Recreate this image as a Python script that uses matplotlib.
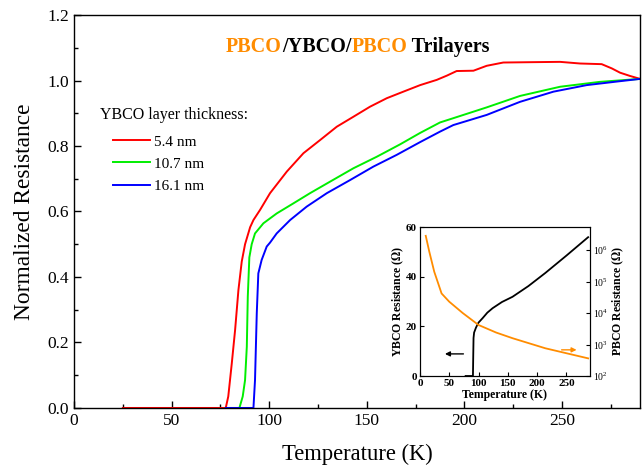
import matplotlib
matplotlib.use("Agg")
import matplotlib.pyplot as plt
import numpy as np
from matplotlib.ticker import MultipleLocator, LogLocator, NullLocator, FormatStrFormatter

plt.rcParams['font.family'] = ['Liberation Serif', 'DejaVu Serif']
plt.rcParams['mathtext.fontset'] = 'stix'

# ---- main data ----
T_red = [25, 77.7, 79, 80.8, 82.5, 84.2, 85.9, 87.6, 90.2, 91.9, 95.3, 100.4, 109, 117.5, 126,
         134.6, 143, 151.6, 160.2, 168.7, 177.3, 185.8, 191, 196, 204.6, 211.4, 219.9, 233.6,
         249, 259.2, 270.3, 275.5, 279.7, 284.8, 290]
R_red = [0, 0, 0.035, 0.136, 0.238, 0.36, 0.447, 0.5, 0.552, 0.574, 0.605, 0.656, 0.722, 0.778,
         0.818, 0.859, 0.889, 0.92, 0.946, 0.966, 0.986, 1.002, 1.015, 1.029, 1.03, 1.045, 1.055,
         1.056, 1.057, 1.052, 1.05, 1.037, 1.024, 1.014, 1.005]

T_green = [77.7, 84.7, 86.4, 87.6, 88.5, 89, 89.8, 91, 92.7, 97, 103.8, 112.4, 120.9, 131.1,
           143.1, 155, 167, 177.3, 187.5, 194.3, 211.4, 228.5, 249, 269.5, 290]
R_green = [0, 0, 0.035, 0.085, 0.187, 0.34, 0.46, 0.5, 0.533, 0.564, 0.594, 0.625, 0.656, 0.691,
           0.732, 0.767, 0.805, 0.84, 0.872, 0.885, 0.918, 0.953, 0.981, 0.996, 1.005]

T_blue = [77.7, 91.9, 92.7, 93.6, 94.4, 96.1, 98.7, 100.4, 103.8, 110.7, 119.2, 129.5, 141.4,
          153.3, 165.3, 177.3, 187.5, 194.3, 211.4, 228.5, 245.6, 262.6, 279.7, 290]
R_blue = [0, 0, 0.085, 0.289, 0.411, 0.452, 0.493, 0.505, 0.533, 0.574, 0.615, 0.656, 0.696,
          0.737, 0.773, 0.812, 0.844, 0.864, 0.895, 0.935, 0.966, 0.986, 0.998, 1.005]

legend_title = 'YBCO layer thickness:'
labels = ['5.4 nm', '10.7 nm', '16.1 nm']
colors = ['#ff0000', '#00ee00', '#0000ff']

# ---- inset data ----
T_ybco = [78, 90.5, 91, 91.5, 92.5, 95.7, 100, 107, 115, 124, 140, 158, 185, 214, 250, 287]
R_ybco = [0, 0, 8, 15.3, 17.5, 19.5, 21.5, 23.3, 25.5, 27.3, 29.8, 31.9, 36.2, 41.5, 48.5, 55.9]

T_pbco = [10, 16, 24.5, 37, 50, 73, 100, 130, 158, 214, 287]
logR_pbco = [6.45, 5.95, 5.31, 4.62, 4.36, 4.0, 3.62, 3.38, 3.2, 2.88, 2.56]

orange = '#ff8c00'

fig = plt.figure(figsize=(6.44, 4.70), dpi=100)
ax = fig.add_axes([0.115, 0.132, 0.879, 0.836])

handles = []
for T, R, c, l in zip([T_red, T_green, T_blue], [R_red, R_green, R_blue], colors, labels):
    h, = ax.plot(T, R, color=c, lw=1.4, label=l, solid_joinstyle='round')
    handles.append(h)

ax.set_xlim(0, 290)
ax.set_ylim(0, 1.2)
ax.xaxis.set_major_locator(MultipleLocator(50))
ax.xaxis.set_minor_locator(MultipleLocator(25))
ax.yaxis.set_major_locator(MultipleLocator(0.2))
ax.yaxis.set_minor_locator(MultipleLocator(0.1))
ax.yaxis.set_major_formatter(FormatStrFormatter('%.1f'))
ax.tick_params(which='both', direction='in', top=False, right=False, labelsize=12.5, width=1)
ax.tick_params(which='major', length=5)
ax.tick_params(which='minor', length=3)
for s in ax.spines.values():
    s.set_linewidth(1.0)
ax.set_xlabel('Temperature (K)', fontsize=16.3, labelpad=11)
ax.set_ylabel('Normalized Resistance', fontsize=16.8, labelpad=9)

ax.text((100 - 74) / 566, (408 - 115) / 393, legend_title, transform=ax.transAxes,
        fontsize=11.5, ha='left', va='center')
leg = ax.legend(handles=handles, loc='upper left', bbox_to_anchor=((113 - 74) / 566, (408 - 135) / 393),
                frameon=False, fontsize=11, handlelength=2.4, handletextpad=0.3,
                labelspacing=0.55, borderpad=0, borderaxespad=0)

# multi-colour title
parts = [('PBCO', orange), ('/YBCO/', 'black'), ('PBCO', orange), (' Trilayers', 'black')]
fig.canvas.draw()
renderer = fig.canvas.get_renderer()
x = 226 / 644
y = 1 - 52 / 470
for txt, c in parts:
    t = fig.text(x, y, txt, color=c, fontsize=14.5, fontweight='bold', ha='left', va='baseline')
    bb = t.get_window_extent(renderer=renderer)
    x += bb.width / fig.bbox.width

# ---- inset ----
ax2 = fig.add_axes([0.652, 0.2, 0.264, 0.317])
ax2.plot(T_ybco, R_ybco, color='black', lw=1.3)
ax2.set_xlim(0, 290)
ax2.set_ylim(0, 60)
ax2.xaxis.set_major_locator(MultipleLocator(50))
ax2.yaxis.set_major_locator(MultipleLocator(20))
ax2.tick_params(direction='in', labelsize=8, length=3, width=0.8, pad=2)
for lab in ax2.get_xticklabels() + ax2.get_yticklabels():
    lab.set_fontweight('bold')
ax2.set_xlabel('Temperature (K)', fontsize=8.5, fontweight='bold', labelpad=1)
ax2.set_ylabel('YBCO Resistance ($\\mathbf{\\Omega}$)', fontsize=8.5, fontweight='bold', labelpad=0)

ax3 = ax2.twinx()
ax3.plot(T_pbco, 10 ** np.array(logR_pbco), color=orange, lw=1.3)
ax3.set_yscale('log')
ax3.set_ylim(1e2, 10 ** 6.73)
ax3.yaxis.set_major_locator(LogLocator(base=10, numticks=10))
ax3.yaxis.set_minor_locator(NullLocator())
ax3.tick_params(direction='in', labelsize=7, length=3, width=0.8, pad=2)
ax3.set_ylabel('PBCO Resistance ($\\mathbf{\\Omega}$)', fontsize=8.5, fontweight='bold', labelpad=2)
ax3.set_xlim(0, 290)

ax2.annotate('', xy=(38, 8.9), xytext=(79, 8.9),
             arrowprops=dict(arrowstyle='-|>', color='black', lw=1, mutation_scale=7))
ax3.annotate('', xy=(272, 10 ** 2.83), xytext=(237, 10 ** 2.83),
             arrowprops=dict(arrowstyle='-|>', color=orange, lw=1, mutation_scale=7))

fig.savefig('out.png', dpi=100)
